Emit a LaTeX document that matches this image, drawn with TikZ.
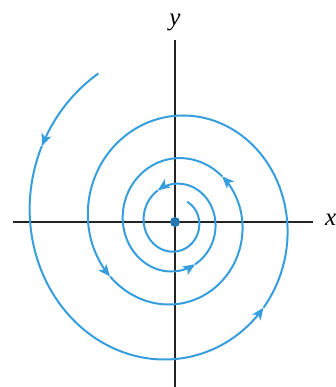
\documentclass[tikz,border=0pt]{standalone}
\usepackage{fontspec}
\setmainfont{Liberation Serif}
\usetikzlibrary{arrows.meta}
\definecolor{spiralblue}{RGB}{55,158,222}
\definecolor{dotblue}{RGB}{35,120,175}
\definecolor{axisgray}{RGB}{35,35,35}
\tikzset{
  axisline/.style={draw=axisgray, line width=1.4pt},
  spiralline/.style={draw=spiralblue, line width=2pt},
  tipped/.style={spiralline, -{Stealth[length=12pt,width=10pt,inset=3pt]}},
  lbl/.style={font=\fontsize{25}{25}\selectfont\itshape, inner sep=0pt},
}
\newcommand{\spx}[1]{187*exp(-0.0813*(#1)*pi/180)*cos(#1)}
\newcommand{\spy}[1]{201*exp(-0.0813*(#1)*pi/180)*sin(#1)}
\newcommand{\spseg}[3]{\draw[#3] plot[domain=#1:#2, samples=80, smooth, variable=\t] ({\spx{\t}},{\spy{\t}});}
\begin{document}
\begin{tikzpicture}[x=1pt,y=1pt]
\useasboundingbox (-175,-165) rectangle (161,222);
% axes
\coordinate (yt) at (0,182);
\coordinate (yb) at (0,-170);
\coordinate (xl) at (-162,0);
\coordinate (xr) at (138,0);
\draw[axisline] (yb) -- (yt);
\draw[axisline] (xl) -- (xr);
\node[lbl] (ylab) at (0,200) {y};
\node[lbl, anchor=west] (xlab) at (150,2) {x};
% spiral
\spseg{119}{152}{tipped}
\spseg{152}{318}{tipped}
\spseg{318}{578}{tipped}
\spseg{578}{762}{tipped}
\spseg{762}{1017}{tipped}
\spseg{1017}{1200}{tipped}
\spseg{1200}{1497}{spiralline}
% origin
\fill[dotblue] (0,0) circle (5);
\end{tikzpicture}
\end{document}
